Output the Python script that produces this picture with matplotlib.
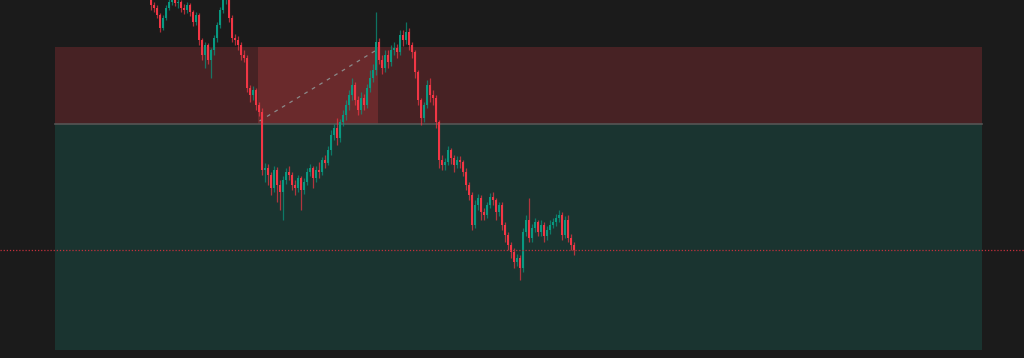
import matplotlib.pyplot as plt
import numpy as np

# candle data (price units), one candle per bar
opens = [360, 355, 352, 345, 332, 342, 352, 358, 365, 357, 358, 352, 350, 355, 348, 338,
         345, 320, 305, 315, 300, 310, 322, 335, 350, 360, 365, 342, 322, 320, 315, 305,
         302, 272, 265, 270, 255, 248, 190, 192, 185, 172, 190, 175, 168, 180, 188, 185,
         175, 172, 182, 170, 178, 188, 192, 182, 190, 188, 200, 197, 210, 225, 232, 222,
         238, 245, 255, 265, 275, 260, 250, 262, 255, 272, 282, 290, 318, 300, 292, 305,
         298, 310, 312, 308, 325, 320, 328, 315, 308, 288, 260, 242, 255, 275, 265, 262,
         238, 200, 195, 198, 210, 202, 195, 200, 198, 188, 175, 165, 135, 155, 162, 148,
         145, 155, 163, 160, 148, 155, 135, 125, 115, 108, 98, 102, 92, 128, 140, 122,
         132, 138, 128, 135, 124, 130, 135, 138, 142, 145, 125, 140, 122, 115]
closes = [355, 352, 345, 332, 342, 352, 358, 365, 357, 358, 352, 350, 355, 348, 338, 345,
          320, 305, 315, 300, 310, 322, 335, 350, 360, 365, 342, 322, 320, 315, 305, 302,
          272, 265, 270, 255, 248, 190, 192, 185, 172, 190, 175, 168, 180, 188, 185, 175,
          172, 182, 170, 178, 188, 192, 182, 190, 188, 200, 197, 210, 225, 232, 222, 238,
          245, 255, 265, 275, 260, 250, 262, 255, 272, 282, 290, 318, 300, 292, 305, 298,
          310, 312, 308, 325, 320, 328, 315, 308, 288, 260, 242, 255, 275, 265, 262, 238,
          200, 195, 198, 210, 202, 195, 200, 198, 188, 175, 165, 135, 155, 162, 148, 145,
          155, 163, 160, 148, 155, 135, 125, 115, 108, 98, 102, 92, 128, 140, 122, 132,
          138, 128, 135, 124, 130, 135, 138, 142, 145, 125, 140, 122, 115, 110]
highs = [365, 358, 355, 347, 345, 355, 362, 370, 367, 362, 360, 356, 358, 357, 350, 348,
         347, 322, 318, 317, 312, 325, 338, 353, 364, 370, 367, 345, 326, 324, 318, 310,
         305, 275, 274, 272, 258, 252, 197, 196, 188, 194, 193, 180, 184, 192, 194, 188,
         180, 185, 184, 182, 192, 196, 194, 194, 198, 203, 205, 214, 230, 236, 242, 241,
         250, 260, 270, 282, 278, 264, 268, 266, 276, 290, 296, 348, 322, 305, 310, 310,
         315, 318, 316, 330, 330, 338, 332, 318, 310, 290, 262, 258, 280, 282, 270, 265,
         240, 205, 202, 214, 212, 205, 204, 204, 200, 192, 178, 168, 160, 166, 165, 152,
         158, 167, 168, 162, 158, 158, 138, 128, 118, 112, 106, 105, 132, 145, 162, 136,
         142, 140, 140, 138, 134, 140, 142, 146, 150, 148, 144, 145, 126, 118]
lows = [350, 348, 342, 328, 330, 340, 350, 355, 354, 352, 348, 346, 347, 344, 334, 335,
        315, 300, 292, 296, 282, 305, 318, 332, 347, 356, 338, 318, 315, 310, 300, 298,
        268, 258, 260, 250, 244, 185, 178, 175, 165, 168, 158, 150, 140, 176, 180, 170,
        165, 168, 150, 166, 175, 184, 172, 178, 182, 185, 192, 195, 205, 220, 215, 218,
        234, 240, 250, 260, 255, 245, 246, 250, 252, 268, 278, 285, 296, 286, 288, 292,
        294, 305, 302, 305, 314, 316, 310, 302, 282, 255, 235, 238, 252, 258, 255, 232,
        192, 190, 190, 195, 196, 188, 192, 192, 184, 170, 160, 130, 132, 150, 140, 140,
        142, 152, 155, 140, 144, 130, 118, 110, 102, 92, 94, 80, 88, 124, 118, 118,
        128, 124, 124, 118, 120, 126, 132, 134, 138, 120, 122, 118, 110, 105]

# position tool levels
stop_price = 313
entry_price = 236
target_price = 10
last_price = 110
trade_start, trade_end = -32, 277
hit_start, hit_end = 35.67, 75.67
hit_price = 312

up_color = "#089981"
down_color = "#f23645"
bg = "#1b1b1b"

fig = plt.figure(figsize=(10.24, 3.58), dpi=100, facecolor=bg)
ax = fig.add_axes([0, 0, 1, 1])
ax.set_facecolor(bg)

# zones
ax.fill_between([trade_start, trade_end], entry_price, stop_price, color="#472224", zorder=1, linewidth=0)
ax.fill_between([trade_start, trade_end], target_price, entry_price, color="#1a3430", zorder=1, linewidth=0)
ax.fill_between([hit_start, hit_end], entry_price, stop_price, color="#6a2a2c", zorder=1.5, linewidth=0)
ax.plot([trade_start, trade_end], [entry_price, entry_price], color="#555555", linewidth=1.2, zorder=2)
ax.plot([hit_start + 0.5, hit_end - 0.5], [entry_price + 3, hit_price - 2], color="#8a8a8a",
        linewidth=0.9, linestyle=(0, (3, 4)), zorder=2)

# candles
x = np.arange(len(closes))
o = np.array(opens)
c = np.array(closes)
colors = [up_color if cc >= oo else down_color for oo, cc in zip(o, c)]
ax.vlines(x, lows, highs, colors=colors, linewidth=0.9, alpha=0.7, zorder=3)
body_bottom = np.minimum(o, c)
body_height = np.maximum(np.abs(c - o), 1)
ax.bar(x, body_height, bottom=body_bottom, width=0.9, color=colors, linewidth=0, zorder=4)

# last price line
ax.axhline(last_price, color="#c4303c", linewidth=0.9, linestyle=(0, (1, 1.5)), zorder=5)

ax.set_xlim(-50.33, 291)
ax.set_ylim(2, 360)
ax.axis("off")

fig.savefig("out.png", dpi=100, facecolor=bg)
